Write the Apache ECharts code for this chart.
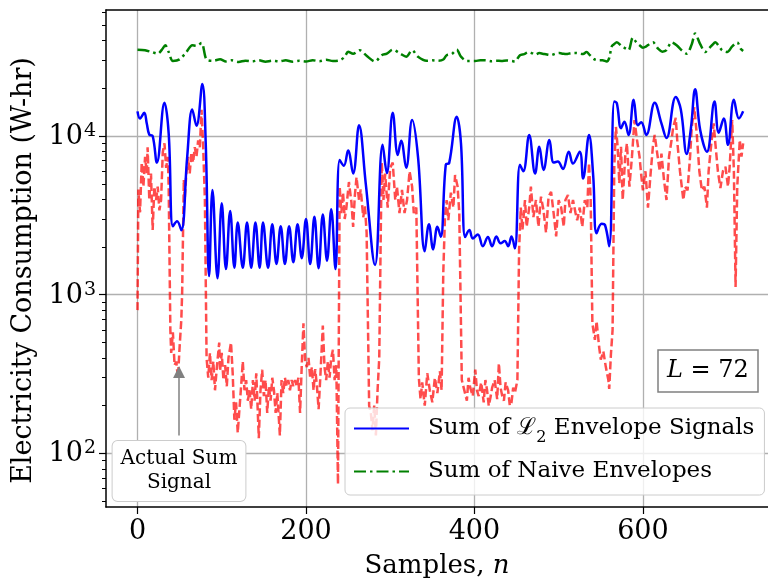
<!DOCTYPE html>
<html><head><meta charset="utf-8">
<script src="https://cdn.jsdelivr.net/npm/echarts@6/dist/echarts.min.js"></script>
<style>html,body{margin:0;padding:0;background:#fff}#c{width:768px;height:586px}</style>
</head><body><div id="c"></div>
<script>
// ---------- data ----------
const xTicks = [0, 200, 400, 600];
const yMajorTicks = [100, 1000, 10000];
const yMinorTicks = [50, 60, 70, 80, 90, 200, 300, 400, 500, 600, 700, 800, 900,
  2000, 3000, 4000, 5000, 6000, 7000, 8000, 9000, 20000, 30000, 40000, 50000, 60000];

const seriesNames = ['Actual Sum Signal', 'Sum of L2 Envelope Signals', 'Sum of Naive Envelopes'];

// Actual sum signal (red dashed)
const redN = [0,1,3,5,7,9,11,12,14,16,18,20,22,24,26,28,30,32,34,36,37,39,40,42,44,46,48,50,52,53,55,56,58,60,62,64,66,68,70,72,74,76,78,80,
82,84,86,88,90,92,94,97,98,100,102,104,106,108,111,113,115,117,119,121,123,125,127,129,131,133,135,137,139,141,144,146,148,150,152,154,156,158,160,162,164,166,169,171,173,175,177,179,181,183,185,187,189,191,193,195,197,199,201,203,205,207,209,211,213,215,217,220,222,224,226,228,230,232,234,236,238,
240,242,244,246,248,251,254,256,258,260,263,265,268,270,272,275,277,279,281,283,285,287,289,290,292,294,297,300,303,306,308,311,314,317,320,323,326,328,331,
334,336,338,341,344,347,350,353,356,359,361,363,365,367,369,372,375,377,380,382,385,387,391,393,395,398,401,403,405,408,411,413,415,417,419,421,424,427,429,431,433,435,437,440,442,444,446,448,451,
453,455,457,460,462,465,467,470,473,476,479,482,485,488,491,494,497,500,503,506,508,511,514,517,520,522,525,528,531,534,536,538,540,543,545,548,550,553,556,559,560,562,564,
566,568,570,572,574,576,579,581,584,587,590,593,596,598,600,603,606,609,612,614,617,620,622,625,628,631,634,636,639,641,644,648,650,653,656,658,661,664,667,670,673,676,678,681,684,686,689,692,695,698,701,703,706,708,710,712,715,717,719];
const redV = [800,4600,3300,6800,4800,7400,5800,8500,3950,5800,2560,4800,3950,4800,3400,3950,7900,9000,6300,7400,4800,600,430,580,360,380,300,470,695,1030,5300,3950,5800,7400,5800,7900,6800,8500,7400,9400,8500,14600,8500,3950,
400,300,430,290,380,250,340,500,330,430,290,360,265,400,500,320,163,210,135,190,265,380,250,290,215,250,190,290,215,320,125,250,337,230,290,180,265,215,300,250,180,240,130,290,240,300,265,290,250,290,265,290,265,300,180,360,660,380,350,400,300,350,250,340,265,190,300,640,350,290,380,300,400,450,290,360,64,
4800,3270,4400,3000,3540,5130,3800,2670,4200,5500,3950,4600,3080,3600,2460,200,180,140,200,130,250,400,3000,6800,3950,5800,3540,6300,6800,3950,4800,3270,4570,3270,3950,6000,4800,3270,3540,
300,220,280,200,320,250,210,300,240,330,250,1370,3080,3950,2950,4400,3540,5680,4800,3270,290,290,215,300,260,230,337,250,230,280,210,290,250,200,225,260,290,220,370,260,230,215,280,250,200,210,260,240,290,
1910,3540,2560,3950,2680,3540,4800,3080,3950,2680,4150,3400,2460,4150,4450,3270,2330,3950,3540,2680,3950,4250,3270,3950,3270,2950,3540,2680,3950,3540,6770,3950,660,520,680,470,390,440,350,290,255,420,600,
6400,11400,8550,5040,8550,3950,7410,8990,4800,7410,12600,9440,7410,5680,4550,6000,3540,5680,8770,10150,7750,6000,7750,5300,3950,7410,9440,11400,13000,8990,6000,3950,4800,4550,7410,11400,15200,10150,6000,4550,4800,3540,6000,8770,12000,8990,6000,4700,6000,6400,4800,6400,12600,6000,1120,4800,9440,7410,8990];

// Sum of L2 envelope signals (blue)
const blueN = [0,3,8,11,14,18,23,32,37,42,47,52,59,65,70,77,81,85,89,95,100,105,110,115,119,125,130,135,140,145,149,155,160,165,170,175,180,185,190,195,200,205,210,215,220,225,230,235,
240,245,250,256,263,271,282,291,296,303,309,313,319,326,333,341,346,351,356,360,366,370,379,384,389,394,398,404,410,416,421,426,431,436,440,444,448,
454,458,465,472,477,482,489,494,499,505,512,517,525,529,536,541,545,551,555,560,566,569,574,578,583,589,594,598,604,614,622,628,639,645,652,657,662,668,676,685,690,696,701,708,714,719];
const blueV = [14300,12900,14000,12000,10200,10000,6800,16200,10400,2700,2900,2550,7400,14700,11600,21300,9000,1310,4570,1270,3770,1450,3370,1480,2850,1480,2850,1480,2850,1480,2850,1480,2780,1560,2700,1560,2700,1600,2780,1700,3000,1560,3100,1470,3200,1640,3450,1450,
7060,6500,8100,5800,11700,5000,1540,8800,5850,14000,7600,9350,6300,12600,7400,1880,2780,1930,2680,2320,6600,6750,13200,9000,2310,2560,2260,2400,2020,2310,2020,2330,2110,2180,2020,2330,1960,
6600,6000,10150,5800,8550,6100,9440,6800,6900,6200,7960,6700,7960,5400,10150,5600,2440,2800,2750,2020,16500,16100,11200,12300,10150,16900,11700,12200,10150,16200,12000,9700,17600,14700,7700,11200,19700,10900,7960,16500,10500,12900,8800,16900,12900,14300];

// Sum of naive envelopes (green)
const greenN = [0,9,17,24,29,33,37,42,50,58,65,70,76,82,90,98,105,112,120,128,136,144,152,160,168,176,184,192,200,208,216,224,232,240,246,250,256,264,272,282,290,296,303,312,319,326,333,343,350,357,363,367,373,379,384,391,401,407,413,420,426,432,438,444,448,
454,459,464,468,472,477,481,486,491,496,501,505,509,515,521,525,529,533,537,542,547,552,557,560,563,566,569,575,580,583,588,592,596,600,604,608,612,618,623,628,634,640,646,652,658,662,668,674,678,682,686,690,694,700,706,712,716,719];
const greenV = [35000,34700,33800,33000,35000,37300,33800,29700,30400,33800,37300,37000,38500,30300,29800,30400,29500,30000,29300,29800,29500,30000,29400,29800,29500,30000,29400,29800,29500,30000,29600,30200,29700,30000,31500,34000,33000,34700,32000,29500,32300,33000,35000,33000,31600,34700,31600,29800,30000,29800,30300,32300,32800,35000,31600,29700,29700,30000,30000,29600,29800,29700,29900,29700,29500,
32300,32800,33800,33300,32600,33300,33000,32600,32300,33000,33300,33000,32800,33300,33300,33000,32800,33800,32300,30500,30000,30000,29500,31000,36700,38000,38900,36700,35500,34700,41700,39000,37300,36000,36700,38000,38900,35500,34000,34700,38900,37300,34700,33000,37900,44300,37900,33800,35500,37300,38900,37000,34700,33800,36700,38900,35500,34300];

// ---------- chart ----------
const FONT = 'DejaVu Serif';
const zip = (a, b) => a.map((v, i) => [v, b[i]]);

const chart = echarts.init(document.getElementById('c'), null, {renderer: 'canvas'});
const xMin = -37.4, xMax = 748.5, yMin = 46, yMax = 62200;

const option = {
  animation: false,
  backgroundColor: '#fff',
  grid: {left: 106, top: 10, right: 0, bottom: 79, containLabel: false},
  xAxis: [{
    type: 'value', min: xMin, max: xMax, position: 'bottom',
    axisLine: {show: true, onZero: false, lineStyle: {color: '#000', width: 1.5}},
    axisTick: {show: true, inside: false, length: 7, customValues: xTicks, lineStyle: {color: '#000', width: 1.2}},
    axisLabel: {customValues: xTicks, margin: 11, fontFamily: FONT, fontSize: 27, color: '#000'},
    splitLine: {show: true, lineStyle: {color: '#b0b0b0', width: 1.3}},
    name: 'Samples, {i|n}', nameLocation: 'middle', nameGap: 46,
    nameTextStyle: {fontFamily: FONT, fontSize: 26, color: '#000',
      rich: {i: {fontFamily: FONT, fontSize: 26, fontStyle: 'italic', color: '#000'}}}
  }, {
    type: 'value', min: xMin, max: xMax, position: 'top',
    axisLine: {show: true, onZero: false, lineStyle: {color: '#000', width: 1.5}},
    axisTick: {show: false}, axisLabel: {show: false}, splitLine: {show: false}
  }],
  yAxis: [{
    type: 'log', logBase: 10, min: yMin, max: yMax, position: 'left',
    axisLine: {show: true, onZero: false, lineStyle: {color: '#000', width: 1.5}},
    axisTick: {show: true, inside: false, length: 7, customValues: yMajorTicks, lineStyle: {color: '#000', width: 1.2}},
    axisLabel: {customValues: yMajorTicks, margin: 10, color: '#000',
      formatter: v => '{b|10}{s|' + Math.round(Math.log10(v)) + '}',
      rich: {
        b: {fontFamily: FONT, fontSize: 27, color: '#000', verticalAlign: 'bottom'},
        s: {fontFamily: FONT, fontSize: 19, color: '#000', verticalAlign: 'bottom', padding: [0, 0, 10, 1]}
      }},
    splitLine: {show: true, lineStyle: {color: '#b0b0b0', width: 1.3}},
    name: 'Electricity Consumption (W-hr)', nameLocation: 'middle', nameGap: 64, nameRotate: 90,
    nameTextStyle: {fontFamily: FONT, fontSize: 27, color: '#000', padding: [0, 24, 0, 0]}
  }, {
    type: 'log', logBase: 10, min: yMin, max: yMax, position: 'left',
    axisLine: {show: false, onZero: false},
    axisTick: {show: true, inside: false, length: 4, customValues: yMinorTicks, lineStyle: {color: '#000', width: 1}},
    axisLabel: {show: false}, splitLine: {show: false}
  }],
  legend: {
    data: [seriesNames[1], seriesNames[2]],
    orient: 'vertical', left: 345, top: 408,
    itemWidth: 55, itemHeight: 14, itemGap: 14,
    padding: [9, 10, 12, 8],
    backgroundColor: 'rgba(255,255,255,0.8)', borderColor: '#cccccc', borderWidth: 1, borderRadius: 5,
    itemStyle: {color: 'rgba(0,0,0,0)', borderColor: 'rgba(0,0,0,0)', borderWidth: 0},
    formatter: name => name === seriesNames[1] ? 'Sum of {l|ℒ}{sub|2} Envelope Signals' : name,
    textStyle: {fontFamily: FONT, fontSize: 23, color: '#000', padding: [0, 0, 0, 14],
      rich: {
        l: {fontFamily: FONT, fontSize: 23, color: '#000'},
        sub: {fontFamily: FONT, fontSize: 16, color: '#000', verticalAlign: 'bottom', padding: [0, 0, -6, 0]}
      }}
  },
  title: [{
    text: '{i|L} = 72', left: 658, top: 350,
    padding: [9, 9, 9, 9], borderColor: '#808080', borderWidth: 1.5, backgroundColor: '#fff',
    textStyle: {fontFamily: FONT, fontSize: 24, fontWeight: 'normal', color: '#000',
      rich: {i: {fontFamily: FONT, fontSize: 24, fontStyle: 'italic', color: '#000'}}}
  }],
  graphic: [{
    type: 'text', x: 179, y: 441, z: 100,
    style: {
      text: 'Actual Sum\nSignal', align: 'center', verticalAlign: 'top',
      fontFamily: FONT, fontSize: 20, lineHeight: 24, fill: '#000',
      padding: [6, 8, 6, 8], backgroundColor: '#fff', borderColor: '#cccccc', borderWidth: 1, borderRadius: 5
    }
  }],
  series: [{
    name: seriesNames[0], type: 'line', data: zip(redN, redV),
    showSymbol: false, symbol: 'none', z: 2,
    lineStyle: {color: 'rgba(255,0,0,0.7)', width: 2.5, type: [8, 3.5]},
    markLine: {
      silent: true, symbol: ['none', 'triangle'], symbolSize: 12,
      lineStyle: {color: '#808080', width: 1.5, type: 'solid'}, label: {show: false},
      data: [[{coord: [49.3, 130]}, {coord: [49.3, 326]}]]
    }
  }, {
    name: seriesNames[1], type: 'line', data: zip(blueN, blueV),
    showSymbol: false, symbol: 'none', smooth: 0.4, z: 3,
    color: '#0000ff', lineStyle: {color: '#0000ff', width: 2.5}
  }, {
    name: seriesNames[2], type: 'line', data: zip(greenN, greenV),
    showSymbol: false, symbol: 'none', smooth: 0.3, z: 3,
    color: '#008000', lineStyle: {color: '#008000', width: 2.5, type: [12, 4, 2.5, 4]}
  }]
};
chart.setOption(option);
</script>
</body></html>
